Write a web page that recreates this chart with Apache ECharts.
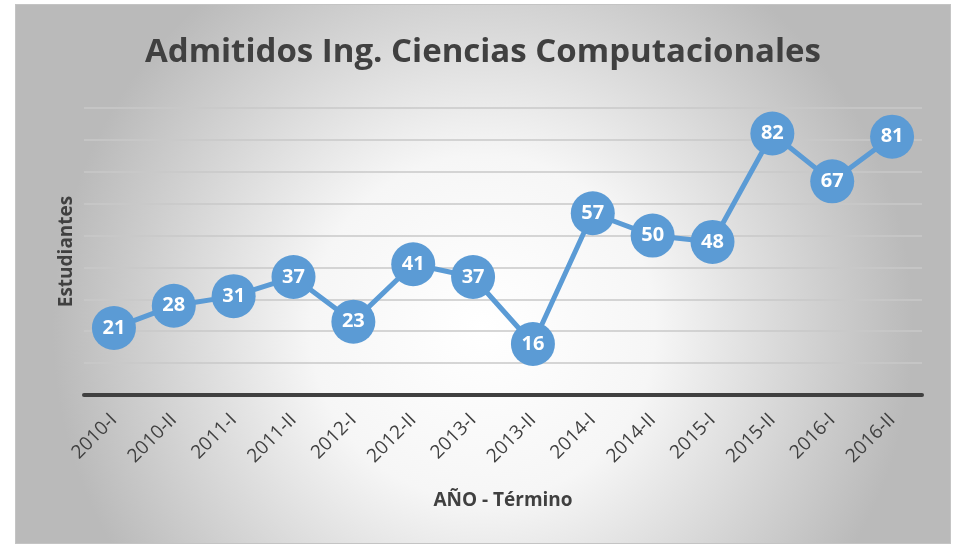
<!DOCTYPE html>
<html>
<head>
<meta charset="utf-8">
<script src="https://cdn.jsdelivr.net/npm/echarts@6/dist/echarts.min.js"></script>
<style>
  html, body { margin: 0; padding: 0; background: #fff; }
  #chart {
    position: absolute; left: 15px; top: 4px;
    width: 934px; height: 538px;
    border: 1px solid #c4c4c4;
  }
</style>
</head>
<body>
<div id="chart"></div>
<script>
// terms and admitted students
const terminos = ["2010-I", "2010-II", "2011-I", "2011-II", "2012-I", "2012-II", "2013-I",
  "2013-II", "2014-I", "2014-II", "2015-I", "2015-II", "2016-I", "2016-II"];
const admitidos = [21, 28, 31, 37, 23, 41, 37, 16, 57, 50, 48, 82, 67, 81];

const chart = echarts.init(document.getElementById("chart"));
const fuente = "Open Sans";

chart.setOption({
  backgroundColor: {
    type: "radial", x: 0.5, y: 0.6, r: 0.8,
    colorStops: [
      { offset: 0, color: "#ffffff" },
      { offset: 0.4, color: "#f6f6f6" },
      { offset: 1, color: "#bababa" }
    ]
  },
  title: {
    text: "Admitidos Ing. Ciencias Computacionales",
    left: "center",
    top: 26,
    textStyle: { fontFamily: fuente, fontWeight: "bold", fontSize: 33, color: "#404040" }
  },
  grid: { left: 68, right: 28, top: 103, bottom: 148 },
  xAxis: {
    type: "category",
    data: terminos,
    boundaryGap: true,
    name: "AÑO - Término",
    nameLocation: "middle",
    nameGap: 96,
    nameTextStyle: { fontFamily: fuente, fontWeight: "bold", fontSize: 19, color: "#404040" },
    axisLine: { lineStyle: { color: "#404040", width: 4 } },
    axisTick: { show: false },
    axisLabel: {
      rotate: 45, margin: 22, interval: 0, hideOverlap: false,
      fontFamily: fuente, fontSize: 19, color: "#404040"
    }
  },
  yAxis: {
    type: "value",
    min: 0, max: 90, interval: 10,
    name: "Estudiantes",
    nameLocation: "middle",
    nameGap: 8,
    nameTextStyle: { fontFamily: fuente, fontWeight: "bold", fontSize: 19, color: "#404040" },
    axisLine: { show: false },
    axisTick: { show: false },
    axisLabel: { show: false },
    splitLine: { lineStyle: { color: "#c8c8c8", width: 1.5 } }
  },
  series: [{
    type: "line",
    data: admitidos,
    symbol: "circle",
    symbolSize: 44,
    itemStyle: { color: "#5b9bd5" },
    lineStyle: { color: "#5b9bd5", width: 5 },
    label: {
      show: true, position: "inside",
      color: "#ffffff", fontFamily: fuente, fontWeight: "bold", fontSize: 20
    },
    animation: false
  }]
});
</script>
</body>
</html>
